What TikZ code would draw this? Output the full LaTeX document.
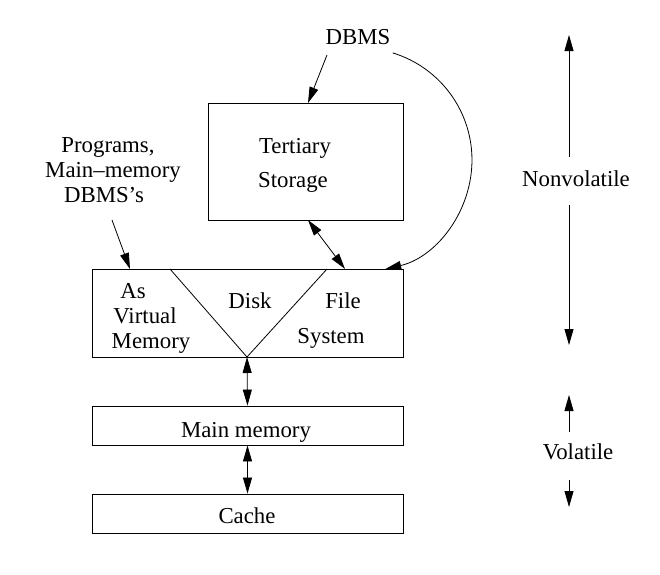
\documentclass[tikz,border=0pt]{standalone}
\usepackage{fontspec}
\setmainfont{Liberation Serif}
\usetikzlibrary{arrows.meta}
\begin{document}
\begin{tikzpicture}[x=1pt,y=-1pt,
  box/.style={draw, line width=0.9pt, inner sep=0pt},
  lbl/.style={inner sep=0pt, anchor=base, font=\fontsize{22.8}{26}\selectfont},
  conn/.style={line width=0.8pt},
  arr/.style={conn, -{Triangle[length=16pt,width=9pt]}},
  darr/.style={conn, {Triangle[length=16pt,width=9pt]}-{Triangle[length=16pt,width=9pt]}}]
\useasboundingbox (0,0) rectangle (660,574);
% boxes
\node[box, minimum width=195pt, minimum height=117pt] (tert) at (305.5,161.5) {};
\node[box, minimum width=311pt, minimum height=88pt] (disk) at (247.5,313) {};
\node[box, minimum width=311pt, minimum height=39pt] (main) at (247.5,425.5) {};
\node[box, minimum width=311pt, minimum height=39pt] (cache) at (247.5,513.5) {};
% V inside disk box
\coordinate (vl) at (170,269);
\coordinate (vb) at (247,357);
\coordinate (vr) at (327,269);
\draw[line width=0.8pt] (vl) -- (vb) -- (vr);
% texts
\node[lbl] (dbms) at (358,44) {DBMS};
\node[lbl] (t1) at (295,153) {Tertiary};
\node[lbl] (t2) at (293,187) {Storage};
\node[lbl] (p1) at (108,152) {Programs,};
\node[lbl] (p2) at (113,177) {Main\textendash memory};
\node[lbl] (p3) at (104,202) {DBMS's};
\node[lbl] (as) at (133,298) {As};
\node[lbl] (virt) at (145,323) {Virtual};
\node[lbl] (mem) at (151,348) {Memory};
\node[lbl] (dk) at (250,308) {Disk};
\node[lbl] (file) at (343,308) {File};
\node[lbl] (sys) at (331,343) {System};
\node[lbl] (mm) at (246,437) {Main memory};
\node[lbl] (ca) at (247,523) {Cache};
\node[lbl] (nv) at (576,186) {Nonvolatile};
\node[lbl] (vo) at (578,459) {Volatile};
% connector end points
\coordinate (dbmsA) at (327,55);
\coordinate (tertA) at (308,103);
\coordinate (progA) at (112,220);
\coordinate (diskA) at (130,269);
\coordinate (tertB) at (308,220);
\coordinate (diskB) at (345,269);
\coordinate (c0) at (392.7,52.9);
\coordinate (cm) at (471.9,163.9);
\coordinate (c1) at (385.2,269.1);
\coordinate (nvtop) at (569,35);
\coordinate (nvs) at (569,157);
\coordinate (nvd) at (569,205);
\coordinate (nvbot) at (569,345);
\coordinate (vos) at (569,432);
\coordinate (votop) at (569,395);
\coordinate (vod) at (569,480);
\coordinate (vobot) at (569,507);
% connectors
\draw[arr] (dbmsA) -- (tertA);
\draw[arr] (progA) -- (diskA);
\draw[darr] (tertB) -- (diskB);
\draw[darr] (vb) -- (main.north);
\draw[darr] (main.south) -- (cache.north);
\draw[arr] (c0) .. controls (441.2,67.7) and (473.7,113.2) .. (cm) .. controls (470.1,214.6) and (434.6,257.7) .. (c1);
\draw[arr] (nvs) -- (nvtop);
\draw[arr] (nvd) -- (nvbot);
\draw[arr] (vos) -- (votop);
\draw[arr] (vod) -- (vobot);
\end{tikzpicture}
\end{document}
